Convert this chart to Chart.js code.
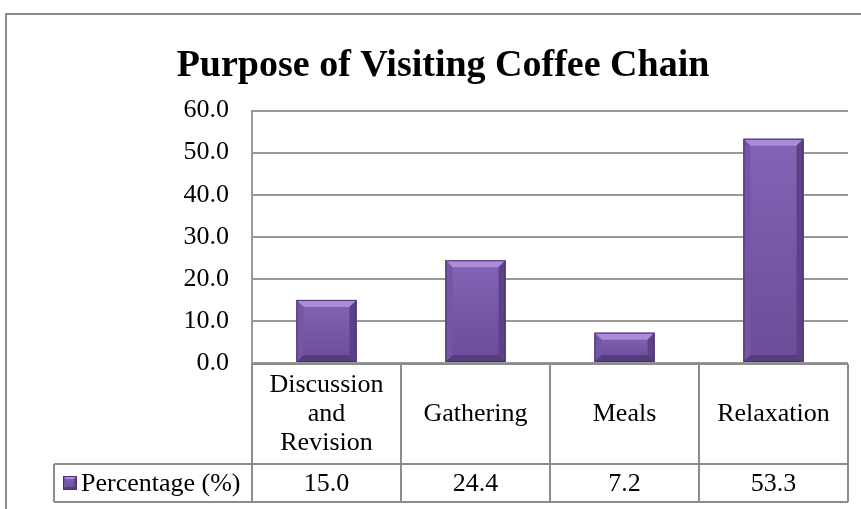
<!DOCTYPE html>
<html>
<head>
<meta charset="utf-8">
<script src="https://cdn.jsdelivr.net/npm/chart.js@4/dist/chart.umd.min.js"></script>
<style>
  html, body { margin: 0; padding: 0; background: #fff; }
  #wrap { width: 861px; height: 509px; }
</style>
</head>
<body>
<div id="wrap"><canvas id="grafico"></canvas></div>
<script>
// data
const categorias = [['Discussion', 'and', 'Revision'], ['Gathering'], ['Meals'], ['Relaxation']];
const porcentajes = [15.0, 24.4, 7.2, 53.3];
const ticksY = [0, 10, 20, 30, 40, 50, 60];
const nombreSerie = 'Percentage (%)';

const FUENTE = '"Liberation Serif", "Times New Roman", serif';
const GRIS = '#8c8c8c';

// draws one bevelled box (bar or legend key)
function cajaBisel(ctx, l, t, r, b, bis) {
  const g = ctx.createLinearGradient(0, t, 0, b);
  g.addColorStop(0, '#8464b6');
  g.addColorStop(1, '#6a4c97');
  ctx.fillStyle = g;
  ctx.fillRect(l, t, r - l, b - t);

  const poli = (pts, color) => {
    ctx.beginPath();
    ctx.moveTo(pts[0][0], pts[0][1]);
    pts.slice(1).forEach(p => ctx.lineTo(p[0], p[1]));
    ctx.closePath();
    ctx.fillStyle = color;
    ctx.fill();
  };
  poli([[l, t], [r, t], [r - bis, t + bis], [l + bis, t + bis]], '#aa8cdb');
  poli([[l, t], [l + bis, t + bis], [l + bis, b - bis], [l, b]], '#7556a5');
  poli([[r, t], [r, b], [r - bis, b - bis], [r - bis, t + bis]], '#5c4186');
  poli([[l, b], [l + bis, b - bis], [r - bis, b - bis], [r, b]], '#563c7e');

  ctx.strokeStyle = '#4b3272';
  ctx.lineWidth = 1;
  ctx.strokeRect(l + 0.5, t + 0.5, r - l - 1, b - t - 1);
}

const pluginBisel = {
  id: 'bisel',
  afterDatasetsDraw(chart) {
    const ctx = chart.ctx;
    const meta = chart.getDatasetMeta(0);
    ctx.save();
    meta.data.forEach(bar => {
      const l = bar.x - bar.width / 2, r = bar.x + bar.width / 2;
      const t = bar.y, b = bar.base;
      cajaBisel(ctx, l, t, r, b, Math.min(7, (b - t) / 2));
    });
    ctx.restore();
  }
};

// data table under the plot + outer frame
const pluginTabla = {
  id: 'tabla',
  afterDraw(chart) {
    const ctx = chart.ctx;
    const area = chart.chartArea;
    const x = chart.scales.x;
    const y0 = area.bottom + 1, y1 = y0 + 100, y2 = y1 + 38;
    const legIzq = 54;
    const paso = (area.right - area.left) / categorias.length;

    ctx.save();
    // outer frame
    ctx.strokeStyle = '#8a8a8a';
    ctx.lineWidth = 2;
    ctx.beginPath();
    ctx.moveTo(6, chart.height);
    ctx.lineTo(6, 14);
    ctx.lineTo(chart.width, 14);
    ctx.stroke();

    ctx.strokeStyle = GRIS;
    ctx.lineWidth = 2;
    ctx.beginPath();
    ctx.moveTo(area.left, y0); ctx.lineTo(area.right, y0);
    ctx.moveTo(legIzq, y1); ctx.lineTo(area.right, y1);
    ctx.moveTo(legIzq, y2); ctx.lineTo(area.right, y2);
    ctx.moveTo(legIzq, y1); ctx.lineTo(legIzq, y2);
    for (let i = 0; i <= categorias.length; i++) {
      const xx = area.left + paso * i;
      ctx.moveTo(xx, y0); ctx.lineTo(xx, y2);
    }
    ctx.stroke();

    ctx.font = '26px ' + FUENTE;
    ctx.textAlign = 'center';
    ctx.textBaseline = 'middle';
    const alto = 29;
    categorias.forEach((lineas, i) => {
      ctx.fillStyle = '#000';
      const cx = x.getPixelForValue(i);
      const cy = (y0 + y1) / 2 - (lineas.length - 1) * alto / 2;
      lineas.forEach((txt, j) => ctx.fillText(txt, cx, cy + j * alto));
      ctx.fillText(porcentajes[i].toFixed(1), cx, (y1 + y2) / 2 + 1);
    });

    // legend key
    const ym = (y1 + y2) / 2;
    cajaBisel(ctx, 63, ym - 7, 77, ym + 7, 3);
    ctx.fillStyle = '#000';
    ctx.textAlign = 'left';
    ctx.fillText(nombreSerie, 81, ym + 1);
    ctx.restore();
  }
};

new Chart(document.getElementById('grafico'), {
  type: 'bar',
  data: {
    labels: categorias.map(c => c.join(' ')),
    datasets: [{
      label: nombreSerie,
      data: porcentajes,
      backgroundColor: '#7658a4',
      categoryPercentage: 1,
      barPercentage: 0.403
    }]
  },
  options: {
    responsive: true,
    maintainAspectRatio: false,
    animation: false,
    layout: { padding: { left: 38, right: 13, top: 0, bottom: 146 } },
    plugins: {
      legend: { display: false },
      tooltip: { enabled: false },
      title: {
        display: true,
        text: 'Purpose of Visiting Coffee Chain',
        color: '#000',
        font: { family: FUENTE, size: 38, weight: 'bold', lineHeight: 1.2 },
        padding: { top: 43, bottom: 22 }
      }
    },
    scales: {
      x: { display: false },
      y: {
        min: 0,
        max: 60,
        afterFit(scale) { scale.width = 214; },
        afterBuildTicks(scale) { scale.ticks = ticksY.map(v => ({ value: v })); },
        ticks: {
          color: '#000',
          padding: 23,
          font: { family: FUENTE, size: 26 },
          callback: v => v.toFixed(1)
        },
        grid: { color: '#999999', lineWidth: 2, drawTicks: false },
        border: { display: true, color: '#999999', width: 2 }
      }
    }
  },
  plugins: [pluginBisel, pluginTabla]
});
</script>
</body>
</html>
